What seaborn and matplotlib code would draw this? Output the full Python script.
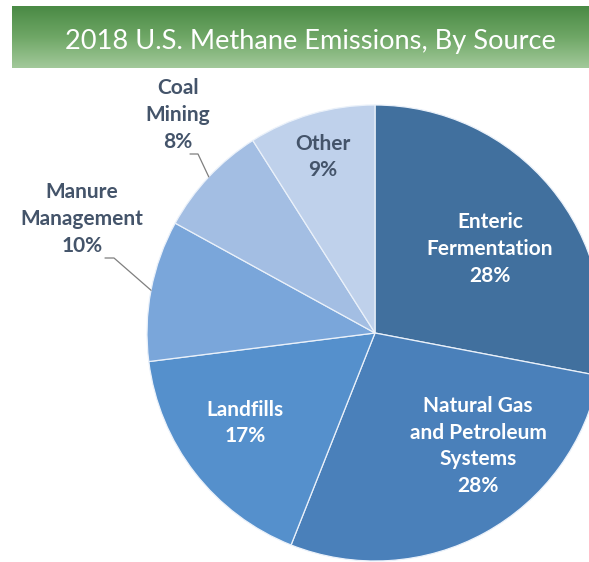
import numpy as np
import matplotlib
matplotlib.use("Agg")
import matplotlib.pyplot as plt
import seaborn as sns
from matplotlib.colors import LinearSegmentedColormap

# --- data ---
sources = ["Enteric\nFermentation", "Natural Gas\nand Petroleum\nSystems", "Landfills",
           "Manure\nManagement", "Coal\nMining", "Other"]
shares = [28, 28, 17, 10, 8, 9]
slice_colors = ["#41709E", "#4A80BA", "#5590CC", "#7AA6DA", "#A3BEE3", "#BFD1EB"]
title = "2018 U.S. Methane Emissions, By Source"

sns.set_theme(style="white")
plt.rcParams["font.family"] = ["Lato", "DejaVu Sans"]

W, H = 589, 562
fig = plt.figure(figsize=(W / 100, H / 100), dpi=100)
ax = fig.add_axes([0, 0, 1, 1])
ax.set_xlim(0, W)
ax.set_ylim(0, H)
ax.set_aspect("equal")
ax.axis("off")

# --- green title banner ---
grad = np.linspace(0, 1, 100).reshape(-1, 1)
banner_cmap = LinearSegmentedColormap.from_list("banner", ["#4A8A45", "#6FA766", "#A2C99A"])
ax.imshow(grad, cmap=banner_cmap, aspect="auto", extent=(12, W, H - 68, H - 6), zorder=1)
ax.text(310, H - 41, title, color="white", fontsize=19.6, ha="center", va="center", zorder=2)

# --- pie ---
cx, cy, R = 375, H - 333, 228
palette = sns.color_palette(slice_colors)
wedges, _ = ax.pie(shares, colors=palette, startangle=90, counterclock=False,
                   center=(cx, cy), radius=R, frame=True,
                   wedgeprops=dict(edgecolor="#EAF1FA", linewidth=0.9))
ax.set_xlim(0, W)
ax.set_ylim(0, H)
ax.axis("off")

# labels: white on the dark slices, dark gray elsewhere
label_pos = [(490, 249), (478, 446), (245, 423), (82, 219), (178, 115), (323, 157)]
text_colors = ["white", "white", "white", "#44546A", "#44546A", "#44546A"]
for name, val, (lx, ly), tc in zip(sources, shares, label_pos, text_colors):
    ax.text(lx, H - ly, f"{name}\n{val}%", ha="center", va="center",
            color=tc, fontsize=15, fontweight="bold", linespacing=1.42, zorder=5)

# leader lines for outside labels
leader_pts = {3: [(105, 258), (114, 258)], 4: [(190, 154), (198, 154)]}
for i, pts in leader_pts.items():
    w = wedges[i]
    mid = np.deg2rad((w.theta1 + w.theta2) / 2)
    ex, ey = cx + R * np.cos(mid), cy + R * np.sin(mid)
    xs = [p[0] for p in pts] + [ex]
    ys = [H - p[1] for p in pts] + [ey]
    ax.plot(xs, ys, color="#7F7F7F", linewidth=0.9, zorder=4)

fig.savefig("out.png", dpi=100)
